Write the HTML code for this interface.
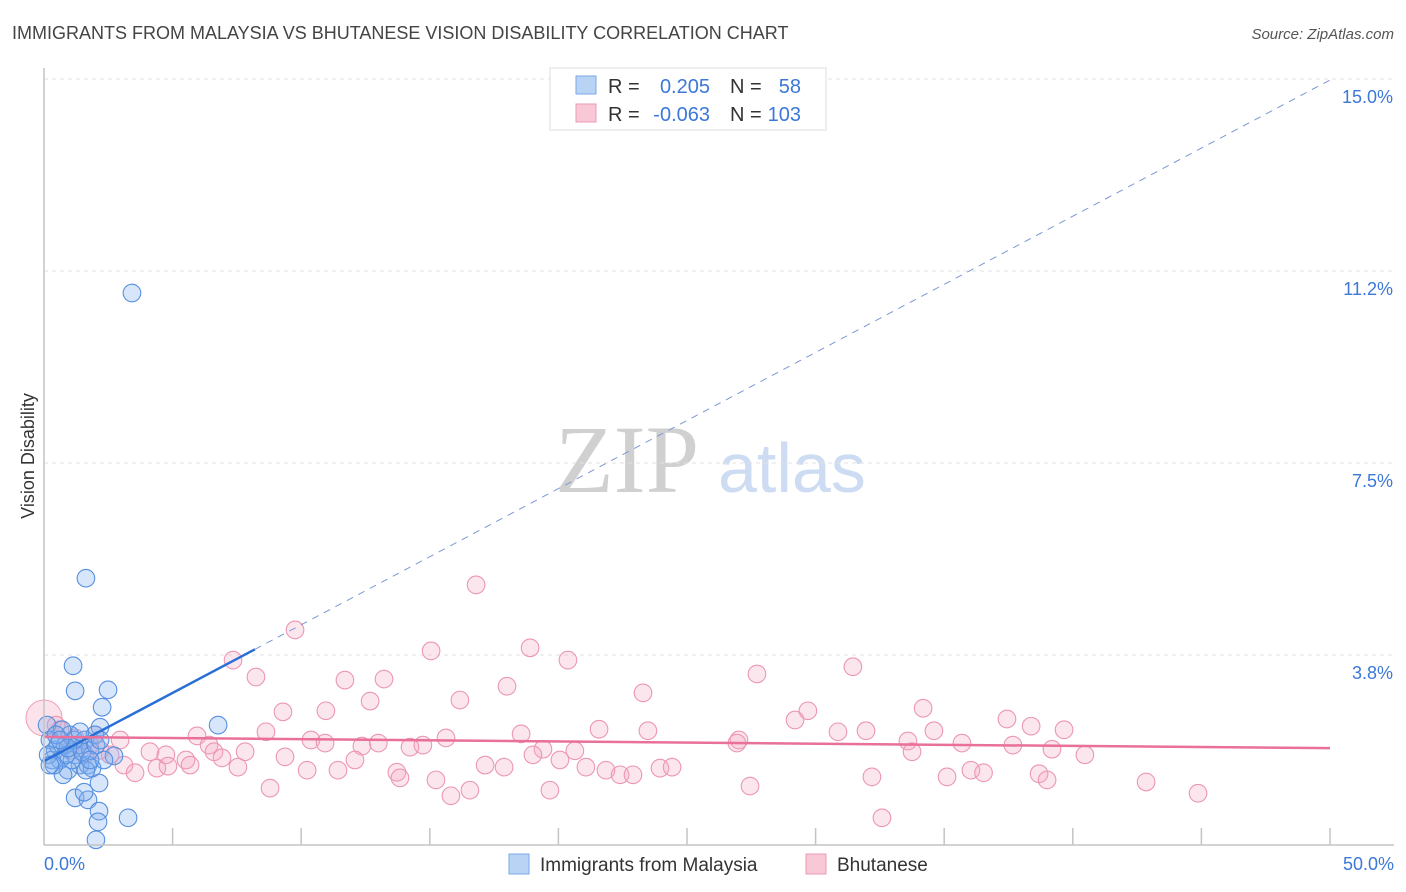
<!DOCTYPE html>
<html><head><meta charset="utf-8"><style>
body{margin:0;background:#fff;font-family:"Liberation Sans",sans-serif}
svg{display:block}
</style></head><body>
<svg id="chart" width="1406" height="892">
<text x="12" y="39" font-size="18" fill="#444">IMMIGRANTS FROM MALAYSIA VS BHUTANESE VISION DISABILITY CORRELATION CHART</text>
<text x="1394" y="39" font-size="15" fill="#555" font-style="italic" text-anchor="end">Source: ZipAtlas.com</text>
<text x="34" y="456" font-size="18" fill="#333" text-anchor="middle" transform="rotate(-90 34 456)">Vision Disability</text>
<g><text x="555" y="492" font-size="96" font-family="Liberation Serif,serif" fill="#d0d0d0">ZIP</text><text x="718" y="492" font-size="70" fill="#cddcf2">atlas</text></g>
<g id="grid"></g><g id="marks"></g><g id="trend"></g><g id="axes"></g>
<g>
<rect x="550" y="68" width="276" height="62" fill="#fff" stroke="#ddd"/>
<rect x="576" y="76" width="20" height="18" fill="#b9d3f5" stroke="#7aa8e6"/>
<rect x="576" y="104" width="20" height="18" fill="#f9c8d6" stroke="#ec9ab4"/>
<text x="608" y="93" font-size="20" fill="#333">R = </text><text x="710" y="93" font-size="20" fill="#3b78d8" text-anchor="end">0.205</text>
<text x="730" y="93" font-size="20" fill="#333">N = </text><text x="801" y="93" font-size="20" fill="#3b78d8" text-anchor="end">58</text>
<text x="608" y="121" font-size="20" fill="#333">R = </text><text x="710" y="121" font-size="20" fill="#3b78d8" text-anchor="end">-0.063</text>
<text x="730" y="121" font-size="20" fill="#333">N = </text><text x="801" y="121" font-size="20" fill="#3b78d8" text-anchor="end">103</text>
</g>
<g>
<rect x="509" y="854" width="20" height="20" fill="#b9d3f5" stroke="#7aa8e6"/><text x="540" y="871" font-size="19" fill="#333">Immigrants from Malaysia</text>
<rect x="806" y="854" width="20" height="20" fill="#f9c8d6" stroke="#ec9ab4"/><text x="837" y="871" font-size="19" fill="#333">Bhutanese</text>
</g>
</svg>
<script>
const yTicks=[3.75,7.5,11.25,15];
const yTickLabels=["3.8%","7.5%","11.2%","15.0%"];
const xTickLabels=["0.0%","50.0%"];
const blueX=[3.42,1.63,1.13,1.21,2.49,2.26,6.77,2.18,2.72,2.14,1.21,1.71,2.14,2.10,3.27,2.02,1.56,0.12,0.23,0.43,0.62,0.82,1.01,1.21,1.40,1.59,1.79,1.98,0.70,0.31,0.93,0.54,1.32,1.71,1.09,0.16,0.47,0.86,1.48,1.87,2.33,0.74,0.39,1.17,2.02,1.63,0.93,1.40,0.62,0.23,1.79,2.18];
const blueY=[10.82,5.25,3.54,3.05,3.07,2.73,2.38,2.34,1.78,1.25,0.96,0.92,0.70,0.49,0.57,0.14,1.07,2.38,2.09,1.89,1.70,1.99,2.19,1.80,1.60,2.09,1.89,2.19,2.29,1.70,1.50,1.99,1.99,1.60,1.70,1.80,2.19,1.80,1.86,1.54,1.70,1.41,1.60,2.09,1.99,1.50,1.93,2.25,2.09,1.60,1.70,2.09];
const pinkX=[16.80,9.76,7.35,15.05,18.90,20.37,31.45,8.24,11.70,13.22,18.00,23.29,27.72,16.17,12.68,9.29,10.96,29.70,34.18,37.44,38.38,39.66,29.20,31.96,30.87,34.60,21.58,23.48,18.55,15.63,8.63,5.95,6.42,10.38,10.93,12.36,13.00,14.23,14.73,19.40,20.64,27.02,26.94,33.59,33.75,35.69,37.67,39.19,40.47,4.12,4.74,5.52,6.61,7.82,6.92,9.37,12.09,19.01,20.06,21.07,17.15,17.89,21.85,22.40,22.90,23.95,24.42,3.11,3.54,4.39,4.82,5.68,7.54,10.23,11.43,13.72,13.84,15.24,16.56,15.82,19.67,8.79,27.45,32.19,35.11,36.04,36.53,38.69,39.00,42.85,44.87,32.58,2.57,2.18,2.96,1.79,1.21,0.62,0.82,1.59,1.98,0.47,1.01];
const pinkY=[5.12,4.24,3.65,3.83,3.89,3.65,3.52,3.32,3.26,3.28,3.14,3.01,3.38,2.87,2.85,2.64,2.66,2.66,2.71,2.50,2.36,2.29,2.48,2.27,2.25,2.27,2.30,2.27,2.21,2.13,2.25,2.17,1.99,2.09,2.03,1.97,2.03,1.95,1.99,1.91,1.88,2.09,2.03,2.07,1.86,2.03,1.99,1.91,1.80,1.86,1.80,1.70,1.86,1.86,1.74,1.76,1.70,1.80,1.70,1.56,1.60,1.56,1.50,1.41,1.41,1.54,1.56,1.60,1.45,1.54,1.58,1.60,1.56,1.50,1.50,1.46,1.35,1.31,1.11,1.00,1.11,1.15,1.19,1.37,1.37,1.50,1.45,1.43,1.31,1.27,1.05,0.57,1.80,1.89,2.09,1.99,2.13,2.29,1.99,1.80,2.19,2.38,1.89];
const bigPink=[0,2.52];
const blueTrend=[1.68,0.266,8.2];
const pinkTrend=[2.15,1.93];
const NS="http://www.w3.org/2000/svg";
const X=v=>44+v*25.72, Y=v=>847-v*51.2;
function mk(tag,attrs,parent){const e=document.createElementNS(NS,tag);for(const k in attrs)e.setAttribute(k,attrs[k]);document.getElementById(parent).appendChild(e);return e;}
yTicks.forEach((t,i)=>{
 const g=mk('line',{x1:44,x2:1394,y1:Y(t),y2:Y(t),stroke:'#e2e2e2','stroke-dasharray':'4,4'},'grid');
 
 
 const l=mk('text',{x:1393,y:Y(t)+24,'font-size':18,fill:'#3b78d8','text-anchor':'end'},'axes');l.textContent=yTickLabels[i];
 
 
});
let a=mk('line',{x1:44,x2:44,y1:68,y2:845,stroke:'#c4c4c4','stroke-width':1.5},'axes');


a=mk('line',{x1:44,x2:1394,y1:845,y2:845,stroke:'#c4c4c4','stroke-width':1.5},'axes');


for(let i=1;i<=10;i++){const t=mk('line',{x1:X(i*5),x2:X(i*5),y1:828,y2:845,stroke:'#c4c4c4','stroke-width':1.5},'axes');
 
 }
[[0,'start',44],[50,'end',1394]].forEach((d,i)=>{const l=mk('text',{x:d[2],y:870,'font-size':18,fill:'#3b78d8','text-anchor':d[1]},'axes');l.textContent=xTickLabels[i];
 
 });
const bc=mk('circle',{cx:X(bigPink[0]),cy:Y(bigPink[1]),r:18,fill:'rgba(245,160,185,0.3)',stroke:'#eea0b8'},'marks');


pinkX.forEach((x,i)=>{const c=mk('circle',{cx:X(x),cy:Y(pinkY[i]),r:8.8,fill:'rgba(245,165,190,0.28)',stroke:'#ec97b2','stroke-width':1.1},'marks');
 
 });
blueX.forEach((x,i)=>{const c=mk('circle',{cx:X(x),cy:Y(blueY[i]),r:8.8,fill:'rgba(130,178,238,0.32)',stroke:'#5690e0','stroke-width':1.1},'marks');
 
 });
const by=x=>blueTrend[0]+blueTrend[1]*x;
let t=mk('line',{x1:X(0),y1:Y(by(0)),x2:X(blueTrend[2]),y2:Y(by(blueTrend[2])),stroke:'#2a6fd6','stroke-width':2.5},'trend');


t=mk('line',{x1:X(blueTrend[2]),y1:Y(by(blueTrend[2])),x2:X(50),y2:Y(by(50)),stroke:'#7b98d4','stroke-width':1,'stroke-dasharray':'7,6'},'trend');


t=mk('line',{x1:X(0),y1:Y(pinkTrend[0]),x2:X(50),y2:Y(pinkTrend[1]),stroke:'#e8709a','stroke-width':2.5},'trend');


</script>
</body></html>
